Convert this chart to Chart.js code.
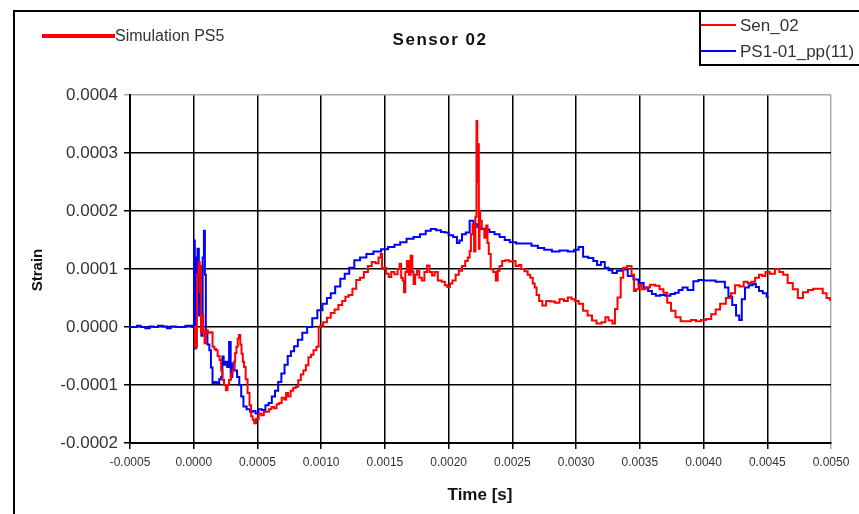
<!DOCTYPE html>
<html><head><meta charset="utf-8">
<script src="https://cdn.jsdelivr.net/npm/chart.js@4"></script>
<style>html,body{margin:0;padding:0;background:#fff}#wrap{width:859px;height:514px;position:relative}</style>
</head><body><div id="wrap"><canvas id="c" width="859" height="514"></canvas></div>
<script>
const chartTitle = "Sensor 02";
const xTitle = "Time [s]";
const yTitle = "Strain";
const simLabel = "Simulation PS5";
const senLabel = "Sen_02";
const psLabel = "PS1-01_pp(11)";
const xTicks = [-0.0005,0,0.0005,0.001,0.0015,0.002,0.0025,0.003,0.0035,0.004,0.0045,0.005];
const yTicks = [-0.0002,-0.0001,0,0.0001,0.0002,0.0003,0.0004];

// Sen_02: time [ms] and strain [1e-4]
const senTimeMs = [0.0,0.02,0.03,0.045,0.05,0.055,0.06,0.07,0.08,0.09,0.1,0.12,0.14,0.155,0.17,0.18,0.195,0.21,0.22,0.23,0.245,0.26,0.27,0.285,0.3,0.31,0.32,0.33,0.34,0.35,0.36,0.37,0.38,0.39,0.4,0.415,0.43,0.445,0.455,0.47,0.48,0.5,0.52,0.54,0.56,0.58,0.6,0.62,0.64,0.66,0.68,0.7,0.72,0.73,0.75,0.77,0.79,0.81,0.83,0.85,0.87,0.89,0.91,0.93,0.95,0.975,0.985,1.0,1.03,1.06,1.09,1.12,1.15,1.18,1.2,1.23,1.26,1.29,1.32,1.35,1.384,1.41,1.44,1.46,1.475,1.48,1.5,1.52,1.54,1.56,1.59,1.61,1.62,1.635,1.645,1.655,1.665,1.68,1.695,1.71,1.72,1.73,1.745,1.76,1.78,1.8,1.82,1.84,1.86,1.88,1.9,1.93,1.96,1.98,2.0,2.02,2.04,2.07,2.09,2.12,2.14,2.16,2.17,2.18,2.195,2.205,2.215,2.222,2.228,2.234,2.24,2.245,2.25,2.27,2.29,2.3,2.31,2.32,2.34,2.36,2.38,2.39,2.41,2.43,2.46,2.49,2.51,2.54,2.56,2.58,2.61,2.63,2.65,2.67,2.68,2.7,2.72,2.75,2.78,2.82,2.85,2.89,2.92,2.95,2.98,3.0,3.04,3.07,3.11,3.14,3.18,3.22,3.24,3.27,3.3,3.31,3.34,3.36,3.38,3.42,3.45,3.46,3.48,3.5,3.53,3.56,3.6,3.64,3.67,3.7,3.73,3.76,3.8,3.84,3.88,3.92,3.96,4.0,4.04,4.08,4.11,4.15,4.2,4.23,4.265,4.3,4.33,4.36,4.39,4.42,4.45,4.47,4.5,4.54,4.58,4.61,4.64,4.68,4.72,4.76,4.8,4.84,4.88,4.92,4.95,4.98,5.0];
const senStrainE4 = [0.0,-0.35,0.9,1.12,0.6,1.05,-0.1,0.2,-0.06,-0.28,-0.06,-0.1,-0.09,-0.34,-0.38,-0.4,-0.5,-0.57,-0.75,-0.91,-1.0,-1.09,-1.0,-0.91,-0.8,-0.74,-0.6,-0.45,-0.34,-0.2,-0.14,-0.3,-0.46,-0.6,-0.69,-0.9,-1.14,-1.35,-1.54,-1.6,-1.66,-1.58,-1.49,-1.52,-1.46,-1.46,-1.42,-1.38,-1.4,-1.33,-1.31,-1.22,-1.25,-1.14,-1.2,-1.1,-1.05,-1.03,-0.92,-0.82,-0.75,-0.66,-0.52,-0.48,-0.4,-0.34,0.0,0.02,0.08,0.16,0.24,0.3,0.38,0.45,0.52,0.55,0.66,0.81,0.85,0.95,1.05,1.12,1.1,1.2,1.26,1.0,1.02,0.92,0.86,0.95,0.91,1.0,1.09,0.85,0.8,0.6,0.95,1.14,0.9,1.23,0.95,0.74,0.9,0.97,0.85,0.8,0.95,1.06,0.95,0.89,0.95,0.8,0.78,0.72,0.69,0.75,0.8,0.9,0.97,1.05,1.14,1.2,1.31,1.6,1.77,1.3,1.9,3.55,2.5,3.15,1.35,2.0,1.83,1.7,1.54,1.75,1.45,1.26,1.0,0.95,0.8,0.97,1.05,1.14,1.15,1.13,1.14,1.05,1.07,1.0,0.96,0.9,0.85,0.75,0.68,0.55,0.45,0.37,0.45,0.44,0.42,0.48,0.45,0.51,0.48,0.45,0.4,0.28,0.2,0.11,0.06,0.08,0.17,0.11,0.06,0.31,0.51,0.85,1.02,1.05,0.9,0.62,0.65,0.73,0.65,0.68,0.73,0.71,0.65,0.59,0.42,0.28,0.17,0.1,0.1,0.12,0.1,0.12,0.14,0.22,0.3,0.4,0.5,0.58,0.72,0.7,0.78,0.76,0.78,0.85,0.9,0.88,0.95,0.92,1.0,0.95,0.9,0.76,0.65,0.5,0.6,0.64,0.66,0.66,0.58,0.5,0.47];

// PS1-01_pp(11): time [ms] and strain [1e-4]
const psTimeMs = [-0.5,-0.46,-0.43,-0.4,-0.36,-0.33,-0.3,-0.26,-0.22,-0.2,-0.16,-0.12,-0.08,-0.05,-0.02,0.0,0.005,0.012,0.02,0.025,0.035,0.045,0.055,0.065,0.075,0.085,0.09,0.1,0.115,0.13,0.14,0.155,0.17,0.19,0.21,0.22,0.23,0.24,0.255,0.27,0.285,0.295,0.31,0.33,0.35,0.365,0.38,0.4,0.43,0.455,0.475,0.495,0.52,0.55,0.575,0.6,0.625,0.65,0.675,0.7,0.725,0.75,0.775,0.8,0.834,0.87,0.91,0.95,0.99,1.03,1.06,1.09,1.13,1.17,1.2,1.24,1.28,1.33,1.38,1.44,1.5,1.55,1.6,1.64,1.7,1.75,1.8,1.84,1.88,1.92,1.96,1.98,2.02,2.05,2.08,2.09,2.12,2.15,2.18,2.21,2.24,2.27,2.3,2.34,2.38,2.42,2.46,2.5,2.56,2.62,2.68,2.72,2.78,2.84,2.9,2.97,3.0,3.04,3.07,3.12,3.15,3.18,3.21,3.24,3.27,3.3,3.34,3.38,3.43,3.47,3.51,3.55,3.58,3.61,3.64,3.68,3.72,3.76,3.79,3.82,3.85,3.9,3.94,3.98,4.02,4.07,4.12,4.155,4.18,4.21,4.24,4.27,4.29,4.31,4.34,4.37,4.4,4.42,4.45,4.48,4.51];
const psStrainE4 = [0.0,0.0,0.02,0.0,-0.02,0.01,0.0,0.02,0.01,-0.02,0.01,0.0,0.0,0.02,0.02,0.0,1.49,-0.37,1.2,0.9,1.35,0.2,1.0,-0.15,1.2,1.66,0.9,-0.06,-0.3,-0.4,-0.7,-0.97,-0.95,-0.97,-0.9,-0.86,-0.51,-0.65,-0.6,-0.69,-0.26,-0.86,-0.63,-0.75,-0.86,-1.0,-1.2,-1.37,-1.42,-1.46,-1.45,-1.49,-1.42,-1.43,-1.35,-1.31,-1.2,-1.1,-0.95,-0.8,-0.65,-0.5,-0.42,-0.33,-0.22,-0.1,0.0,0.15,0.29,0.4,0.5,0.58,0.7,0.83,0.92,1.02,1.15,1.2,1.26,1.3,1.34,1.38,1.42,1.46,1.52,1.55,1.6,1.66,1.69,1.67,1.64,1.63,1.58,1.55,1.45,1.49,1.6,1.63,1.83,1.77,1.72,1.69,1.68,1.64,1.6,1.55,1.5,1.46,1.44,1.44,1.4,1.36,1.33,1.3,1.32,1.3,1.33,1.38,1.21,1.19,1.14,1.07,1.12,1.02,0.98,0.93,0.97,0.99,0.88,0.82,0.76,0.68,0.62,0.57,0.54,0.55,0.54,0.57,0.59,0.64,0.68,0.64,0.79,0.81,0.8,0.8,0.78,0.78,0.68,0.52,0.38,0.2,0.12,0.48,0.68,0.72,0.74,0.69,0.62,0.58,0.52];

const simData = [];

function toPoints(tMs, sE4) {
  return tMs.map((t, i) => ({ x: t / 1000, y: sE4[i] / 10000 }));
}

const FONT = "'Liberation Sans', Arial, sans-serif";

const decor = {
  id: 'decor',
  afterDraw(chart) {
    const ctx = chart.ctx;
    ctx.save();
    ctx.strokeStyle = '#000';
    ctx.lineWidth = 2;
    ctx.beginPath();
    ctx.moveTo(14, 514); ctx.lineTo(14, 11); ctx.lineTo(859, 11);
    ctx.stroke();
    // title
    ctx.fillStyle = '#111';
    ctx.font = "bold 17px " + FONT;
    ctx.textAlign = 'left'; ctx.textBaseline = 'middle';
    try { ctx.letterSpacing = '1.5px'; } catch (e) {}
    const tw = ctx.measureText(chartTitle).width;
    ctx.fillText(chartTitle, 440 - tw / 2, 40);
    try { ctx.letterSpacing = '0px'; } catch (e) {}
    // sim legend
    const ds = chart.data.datasets;
    const sim = ds[2];
    ctx.strokeStyle = sim.borderColor; ctx.lineWidth = 4;
    ctx.beginPath(); ctx.moveTo(42, 36); ctx.lineTo(115, 36); ctx.stroke();
    ctx.font = "16px " + FONT; ctx.textAlign = 'left'; ctx.fillStyle = '#333';
    ctx.fillText(sim.label, 115, 37);
    // legend box
    ctx.strokeStyle = '#000'; ctx.lineWidth = 2;
    ctx.beginPath(); ctx.moveTo(700, 11); ctx.lineTo(700, 65); ctx.lineTo(859, 65); ctx.stroke();
    [[ds[0], 25], [ds[1], 51]].forEach(([d, y]) => {
      ctx.strokeStyle = d.borderColor; ctx.lineWidth = 2;
      ctx.beginPath(); ctx.moveTo(701, y); ctx.lineTo(736, y); ctx.stroke();
      ctx.fillStyle = '#333'; ctx.font = "17px " + FONT;
      ctx.fillText(d.label, 740, y + 1);
    });
    // axis titles
    ctx.fillStyle = '#111';
    ctx.font = "bold 17px " + FONT;
    ctx.textAlign = 'center';
    ctx.fillText(xTitle, 480, 495);
    ctx.save();
    ctx.font = "bold 15px " + FONT;
    ctx.translate(38, 270); ctx.rotate(-Math.PI / 2);
    ctx.fillText(yTitle, 0, 0);
    ctx.restore();
    ctx.restore();
  }
};

new Chart(document.getElementById('c'), {
  type: 'scatter',
  data: {
    datasets: [
      { label: senLabel, data: toPoints(senTimeMs, senStrainE4), borderColor: '#ff0000', backgroundColor: '#ff0000', borderWidth: 2, showLine: true, pointRadius: 0, stepped: 'middle' },
      { label: psLabel, data: toPoints(psTimeMs, psStrainE4), borderColor: '#0000ff', backgroundColor: '#0000ff', borderWidth: 2, showLine: true, pointRadius: 0, stepped: 'middle' },
      { label: simLabel, data: simData, borderColor: '#ff0000', backgroundColor: '#ff0000', borderWidth: 4, showLine: true, pointRadius: 0 }
    ]
  },
  options: {
    responsive: false,
    animation: false,
    devicePixelRatio: 1,
    layout: { padding: { left: 0, right: 28, top: 95, bottom: 0 } },
    plugins: { legend: { display: false }, title: { display: false }, tooltip: { enabled: false } },
    scales: {
      x: {
        type: 'linear', min: -0.0005, max: 0.005,
        afterBuildTicks(s) { s.ticks = xTicks.map(v => ({ value: v })); },
        afterFit(s) { s.height = 71; },
        grid: { color: ctx => (ctx.tick && ctx.tick.value === 0.005 ? '#aaa' : '#000'), lineWidth: 1.5, tickLength: 6, drawTicks: true },
        border: { color: '#000', width: 2 },
        ticks: { color: '#333', font: { size: 12, family: FONT }, padding: 6, maxRotation: 0, autoSkip: false,
          callback: v => v.toFixed(4) }
      },
      y: {
        type: 'linear', min: -0.0002, max: 0.0004,
        afterBuildTicks(s) { s.ticks = yTicks.map(v => ({ value: v })); },
        afterFit(s) { s.width = 130; },
        grid: { color: ctx => (ctx.tick && Math.abs(ctx.tick.value - 0.0004) < 1e-9 ? '#aaa' : '#000'), lineWidth: 1.5, tickLength: 6 },
        border: { color: '#000', width: 2 },
        ticks: { color: '#333', font: { size: 17, family: FONT }, padding: 6,
          callback: v => v.toFixed(4) }
      }
    }
  },
  plugins: [decor]
});
</script></body></html>
